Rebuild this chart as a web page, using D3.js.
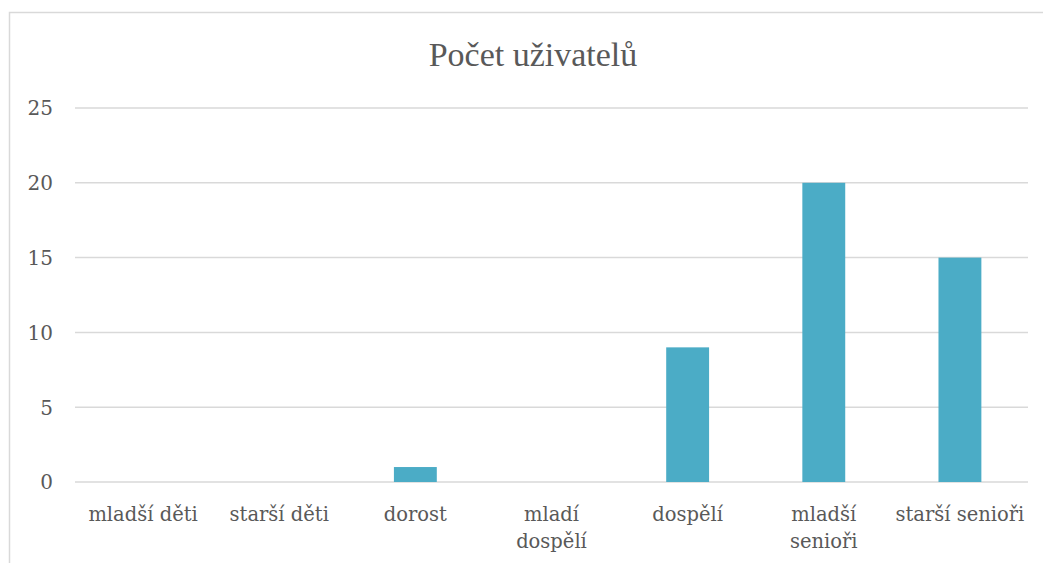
<!DOCTYPE html>
<html>
<head>
<meta charset="utf-8">
<script src="https://cdn.jsdelivr.net/npm/d3@7"></script>
<style>
  body { margin: 0; background: #fff; }
</style>
</head>
<body>
<div id="chart"></div>
<script>
var categories = ["mladší děti", "starší děti", "dorost", "mladí\ndospělí", "dospělí", "mladší\nsenioři", "starší senioři"];
var values = [0, 0, 1, 0, 9, 20, 15];
var yTicks = [0, 5, 10, 15, 20, 25];
var title = "Počet uživatelů";

var width = 1043;
var height = 563;
// plot area edges (don't use "top": it clashes with window.top)
var plotLeft = 75, plotRight = 1028, plotTop = 108, plotBottom = 482;

var svg = d3.select("#chart").append("svg")
    .attr("width", width)
    .attr("height", height);

// chart frame
svg.append("rect")
    .attr("x", 9.5)
    .attr("y", 12.5)
    .attr("width", 1060)
    .attr("height", 600)
    .style("fill", "none")
    .style("stroke", "#d9d9d9")
    .style("stroke-width", 1.5);

var x = d3.scaleBand()
    .domain(categories)
    .range([plotLeft, plotRight])
    .paddingInner(0.685)
    .paddingOuter(0.3425);

var y = d3.scaleLinear()
    .domain([0, 25])
    .range([plotBottom, plotTop]);

// gridlines
svg.selectAll(".grid")
    .data(yTicks)
    .enter().append("line")
    .attr("class", "grid")
    .attr("x1", plotLeft)
    .attr("x2", plotRight)
    .attr("y1", d => y(d))
    .attr("y2", d => y(d))
    .style("stroke", "#d9d9d9")
    .style("stroke-width", 1.5);

// y labels
svg.selectAll(".ylab")
    .data(yTicks)
    .enter().append("text")
    .attr("class", "ylab")
    .attr("x", 53)
    .attr("y", d => y(d))
    .attr("dy", "0.37em")
    .attr("text-anchor", "end")
    .style("font-family", "'DejaVu Serif', serif")
    .style("font-size", "20px")
    .style("fill", "#595959")
    .text(d => d);

// bars
svg.selectAll(".bar")
    .data(values)
    .enter().append("rect")
    .attr("class", "bar")
    .attr("x", (d, i) => x(categories[i]))
    .attr("width", x.bandwidth())
    .attr("y", d => y(d))
    .attr("height", d => y(0) - y(d))
    .style("fill", "#4bacc6");

// x labels
var xl = svg.selectAll(".xlab")
    .data(categories)
    .enter().append("text")
    .attr("class", "xlab")
    .attr("text-anchor", "middle")
    .style("font-family", "'DejaVu Serif', serif")
    .style("font-size", "19.5px")
    .style("fill", "#595959");

xl.each(function(d) {
    var cx = x(d) + x.bandwidth() / 2;
    d3.select(this).selectAll("tspan")
        .data(d.split("\n"))
        .enter().append("tspan")
        .attr("x", cx)
        .attr("y", (t, j) => 521 + j * 27)
        .text(t => t);
});

// title
svg.append("text")
    .attr("x", 533)
    .attr("y", 66)
    .attr("text-anchor", "middle")
    .style("font-family", "'Liberation Serif', serif")
    .style("font-size", "34px")
    .style("fill", "#595959")
    .text(title);
</script>
</body>
</html>
